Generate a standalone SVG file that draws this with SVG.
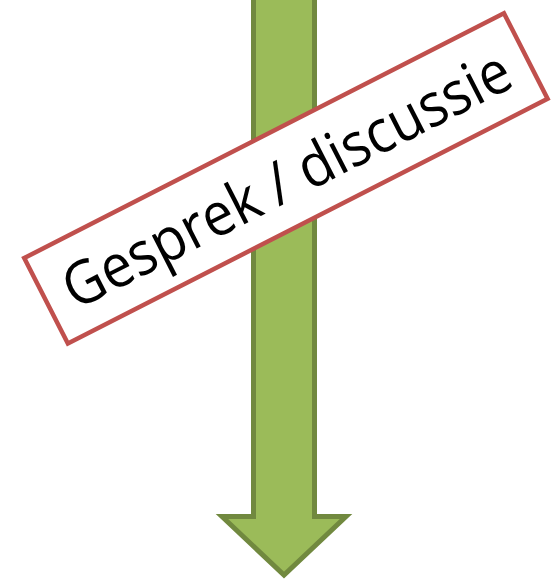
<svg xmlns="http://www.w3.org/2000/svg" width="552" height="579" viewBox="0 0 552 579">
<style>
.arrow{fill:#9BBB59;stroke:#71893F;stroke-width:5;stroke-linejoin:miter;stroke-miterlimit:10}
.box{fill:#FFFFFF;stroke:#C0504D;stroke-width:4.5}
.lbl{font-family:"Open Sans","Liberation Sans",sans-serif;font-size:60px;fill:#000000}
</style>
<g id="connectors">
<path class="arrow" d="M253.5,-5 L314.5,-5 L314.5,516.5 L346,516.5 L284,575 L222,516.5 L253.5,516.5 Z"/>
</g>
<g id="node-gesprek" transform="translate(285.9,178.4) rotate(-27.04)">
<rect class="box" x="-269.3" y="-48" width="538.6" height="96"/>
<text class="lbl" x="0" y="22" text-anchor="middle" textLength="495" lengthAdjust="spacingAndGlyphs">Gesprek / discussie</text>
</g>
</svg>
